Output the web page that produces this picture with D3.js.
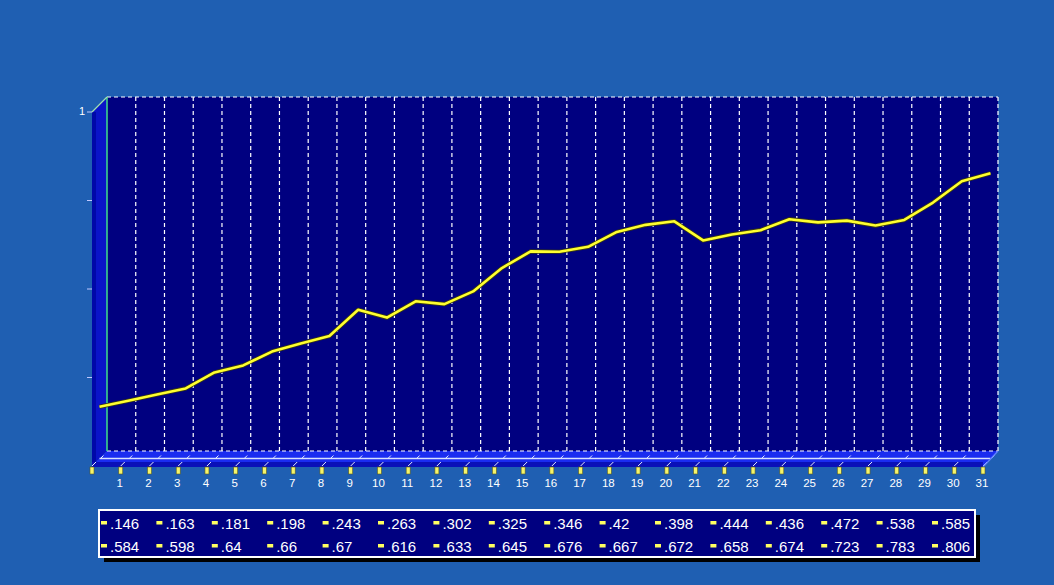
<!DOCTYPE html>
<html><head><meta charset="utf-8">
<script src="https://cdn.jsdelivr.net/npm/d3@7"></script>
<style>html,body{margin:0;padding:0;background:#1f5fb2;}svg{display:block;}</style>
</head><body>
<script>
const categories = d3.range(0, 32);           // x positions 0..31 (only 1..31 labelled)
const tickLabels = d3.range(1, 32).map(String);
const values = [.146,.163,.181,.198,.243,.263,.302,.325,.346,.42,.398,.444,.436,.472,.538,.585,
                .584,.598,.64,.66,.67,.616,.633,.645,.676,.667,.672,.658,.674,.723,.783,.806];
const legendLabels = ["-.146","-.163","-.181","-.198","-.243","-.263","-.302","-.325","-.346","-.42","-.398","-.444","-.436","-.472","-.538","-.585",
                      "-.584","-.598","-.64","-.66","-.67","-.616","-.633","-.645","-.676","-.667","-.672","-.658","-.674","-.723","-.783","-.806"];

const W = 1054, H = 585;
const svg = d3.select("body").append("svg").attr("width", W).attr("height", H);
svg.append("rect").attr("width", W).attr("height", H).attr("fill", "#1f5fb2");

const x = d3.scaleLinear().domain([0, 31]).range([92, 983]);
const y = d3.scaleLinear().domain([0, 1]).range([466, 112]);
const DX = 15, DY = -15;

// back wall
svg.append("rect").attr("x", x(0) + DX).attr("y", y(1) + DY)
  .attr("width", x(31) - x(0)).attr("height", y(0) - y(1)).attr("fill", "#000080");
// left wall
svg.append("path").attr("fill", "#0a14c8")
  .attr("d", `M${x(0)},${y(1)} L${x(0)+DX},${y(1)+DY} L${x(0)+DX},${y(0)+DY} L${x(0)},${y(0)} Z`);
svg.append("rect").attr("x", x(0)).attr("y", y(1)).attr("width", 4).attr("height", y(0)-y(1)).attr("fill", "#0008a8");
// floor
svg.append("path").attr("fill", "#1a2cf0")
  .attr("d", `M${x(0)},${y(0)} L${x(0)+DX},${y(0)+DY} L${x(31)+DX},${y(0)+DY} L${x(31)},${y(0)} Z`);
svg.append("rect").attr("x", x(0)).attr("y", y(0)-4).attr("width", x(31)-x(0)).attr("height", 5).attr("fill", "#0a10b8");
svg.append("line").attr("x1", x(0)+DX/2).attr("x2", x(31)+DX/2)
  .attr("y1", y(0)+DY/2).attr("y2", y(0)+DY/2).attr("stroke", "#d8e0ff").attr("stroke-width", 1.5);

// vertical dashed gridlines on back wall
const dash = "4,3";
svg.append("g").selectAll("line").data(categories.slice(1)).join("line")
  .attr("x1", d => x(d) + DX).attr("x2", d => x(d) + DX)
  .attr("y1", y(1) + DY).attr("y2", y(0) + DY)
  .attr("stroke", "#ffffff").attr("stroke-width", 1.2).attr("stroke-dasharray", dash);
// top and bottom dashed borders
[y(1) + DY, y(0) + DY].forEach(yy => {
  svg.append("line").attr("x1", x(0) + DX).attr("x2", x(31) + DX).attr("y1", yy).attr("y2", yy)
    .attr("stroke", "#ffffff").attr("stroke-width", 1.2).attr("stroke-dasharray", dash);
});
// green edges
svg.append("line").attr("x1", x(0)+DX).attr("x2", x(0)+DX).attr("y1", y(1)+DY).attr("y2", y(0)+DY)
  .attr("stroke", "#3fe08a").attr("stroke-width", 1.5);
svg.append("line").attr("x1", x(0)).attr("y1", y(1)).attr("x2", x(0)+DX).attr("y2", y(1)+DY)
  .attr("stroke", "#9fe0b0").attr("stroke-width", 1.2);
// floor depth marks
svg.append("g").selectAll("path").data(categories).join("path")
  .attr("d", d => `M${x(d)},${y(0)} l4,-4 M${x(d)+DX/2+1},${y(0)+DY/2} l3,-3`)
  .attr("stroke", "#e8ecff").attr("stroke-width", 1).attr("fill", "none");
// floor right end diagonal
svg.append("line").attr("x1", x(31)).attr("y1", y(0)+1).attr("x2", x(31)+DX).attr("y2", y(0)+DY)
  .attr("stroke", "#6080ff").attr("stroke-width", 1.2);

// x tick stubs
svg.append("g").selectAll("rect").data(categories).join("rect")
  .attr("x", d => x(d) - 2).attr("y", y(0) + 1).attr("width", 4).attr("height", 7)
  .attr("fill", "#f4f46a").attr("stroke", "#5a5a20").attr("stroke-width", 0.6);
svg.append("g").selectAll("text").data(tickLabels).join("text")
  .attr("x", (d, i) => x(i + 1) - 1).attr("y", 487)
  .attr("text-anchor", "middle").attr("fill", "#ffffff")
  .attr("font-family", "Liberation Sans, Arial, sans-serif").attr("font-size", 11.5)
  .text(d => d);

// y ticks
svg.append("g").selectAll("line").data([0.25, 0.5, 0.75, 1]).join("line")
  .attr("x1", x(0) - 5).attr("x2", x(0)).attr("y1", d => y(d)).attr("y2", d => y(d))
  .attr("stroke", "#c0c8ff").attr("stroke-width", 1);
svg.append("text").attr("x", x(0) - 7).attr("y", y(1) + 3).attr("text-anchor", "end")
  .attr("fill", "#ffffff").attr("font-family", "Liberation Sans, Arial, sans-serif").attr("font-size", 11)
  .text("1");

// data line (mid depth)
const line = d3.line().x((d, i) => x(categories[i]) + DX / 2).y(d => y(d) + DY / 2);
svg.append("path").datum(values).attr("d", line).attr("fill", "none")
  .attr("stroke", "#3a3a10").attr("stroke-width", 4.2).attr("stroke-linejoin", "round");
svg.append("path").datum(values).attr("d", line).attr("fill", "none")
  .attr("stroke", "#ffff30").attr("stroke-width", 2.6).attr("stroke-linejoin", "round");

// legend
const lgX = 99, lgY = 510, lgW = 876, lgH = 47;
svg.append("rect").attr("x", lgX + 5).attr("y", lgY + 5).attr("width", lgW).attr("height", lgH).attr("fill", "#000000");
svg.append("rect").attr("x", lgX).attr("y", lgY).attr("width", lgW).attr("height", lgH)
  .attr("fill", "#000080").attr("stroke", "#ffffff").attr("stroke-width", 2);
const colW = 55.4;
const lg = svg.append("g").selectAll("g").data(legendLabels).join("g")
  .attr("transform", (d, i) => `translate(${104 + (i % 16) * colW},${i < 16 ? 523 : 546})`);
lg.append("rect").attr("x", -3).attr("y", -2).attr("width", 6).attr("height", 3.5).attr("fill", "#ffff60");
lg.append("text").attr("x", 6).attr("y", 5.5).attr("fill", "#ffffff")
  .attr("font-family", "Liberation Sans, Arial, sans-serif").attr("font-size", 15)
  .text(d => d.slice(1));
</script>
</body></html>
